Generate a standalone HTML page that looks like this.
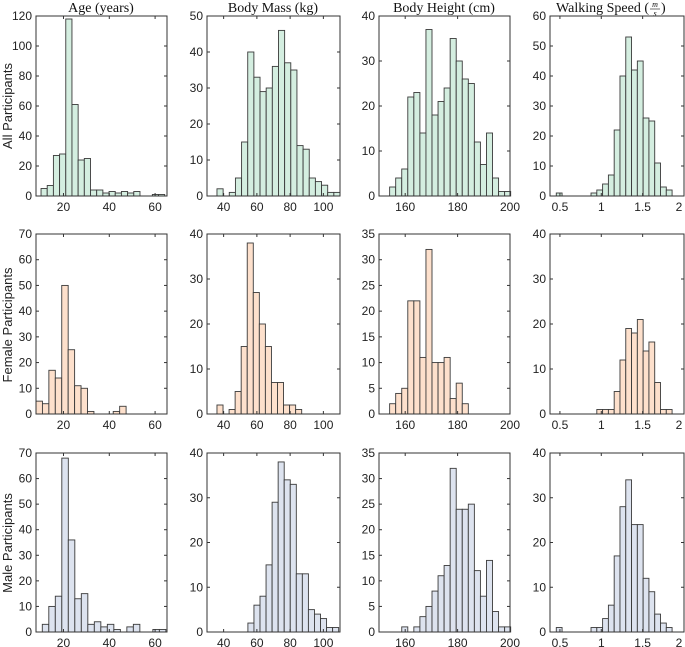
<!DOCTYPE html>
<html><head><meta charset="utf-8">
<style>
html,body{margin:0;padding:0;background:#fff;}
svg{display:block;}
.tk{font-family:"Liberation Sans",sans-serif;font-size:12px;fill:#222;}
.ti{font-family:"Liberation Serif",serif;font-size:14px;fill:#111;}
.rl{font-family:"Liberation Sans",sans-serif;font-size:13px;fill:#222;}
</style></head>
<body>
<svg id="fig" width="685" height="647" viewBox="0 0 685 647" xmlns="http://www.w3.org/2000/svg">
<text class="ti" x="101" y="12" text-anchor="middle">Age (years)</text>
<text class="ti" x="273" y="12" text-anchor="middle">Body Mass (kg)</text>
<text class="ti" x="444" y="12" text-anchor="middle">Body Height (cm)</text>
<g>
<text class="ti" x="649" y="12" text-anchor="end">Walking Speed (</text>
<text class="ti" x="655" y="7" text-anchor="middle" style="font-size:8px;font-style:italic">m</text>
<line x1="650" y1="9" x2="660" y2="9" stroke="#111" stroke-width="0.6"/>
<text class="ti" x="655" y="16" text-anchor="middle" style="font-size:8px;font-style:italic">s</text>
<text class="ti" x="661" y="12">)</text>
</g>
<text class="rl" transform="translate(12,106) rotate(-90)" text-anchor="middle">All Participants</text>
<text class="rl" transform="translate(12,325) rotate(-90)" text-anchor="middle">Female Participants</text>
<text class="rl" transform="translate(12,543) rotate(-90)" text-anchor="middle">Male Participants</text>
</svg>
<script>
// Data
const ageAll = [5,7,27,28,118,61,24,25,4,4,2,3,2,3,2,3,0,0,1,1];
const ageFemale = [5,4,17,14,50,25,11,10,1,0,0,0,1,3];
const ageMale = [3,10,14,68,36,13,15,3,4,2,3,1,0,2,3,0,0,1,1];
const massAll = [2,0,1,5,15,40,33,29,30,36,46,37,35,14,13,5,4,3,1,1];
const massFemale = [2,0,1,5,15,38,27,20,15,7,7,2,2,1];
const massMale = [2,6,8,15,29,38,34,33,13,13,5,4,3,1,1];
const heightAll = [2,4,6,22,23,14,37,18,21,24,35,30,26,25,12,7,14,4,1,1];
const heightFemale = [2,4,5,22,22,11,32,10,10,11,3,6,2];
const heightMale = [1,0,1,3,5,8,11,13,32,24,24,25,12,7,14,4,1,1];
const speedAll = [1,0,0,0,0,0,1,2,4,7,22,40,53,42,45,26,25,11,3,2];
const speedFemale = [1,1,1,5,12,19,18,21,14,16,7,1,1];
const speedMale = [1,0,0,0,0,0,1,1,3,6,17,28,34,24,24,12,9,4,2,1];
// bin starts / widths (data units)
const ageBinStarts = [10.2, 8.0, 10.75];
const ageBinWidths = [2.7, 2.81, 2.84];
const massBinStarts = [36, 36, 54.6];
const massBinWidths = [3.7, 3.64, 3.64];
const heightBinStarts = [154.06, 154.06, 158.68];
const heightBinWidth = 2.31;
const speedBinStarts = [0.456, 0.946, 0.456];
const speedBinWidth = 0.07;
// axes
const yMaxRows = [[120,50,40,60],[70,40,35,40],[70,40,35,40]];
const yStepRows = [[20,10,10,10],[10,10,5,10],[10,10,5,10]];
const xDomains = [[8,65.2],[30,110],[150,200],[0.38,2.0]];
const xTicks = [[20,40,60],[40,60,80,100],[160,180,200],[0.5,1,1.5,2]];
const xTickLabels = [["20","40","60"],["40","60","80","100"],["160","180","200"],["0.5","1","1.5","2"]];
const colNames = ["age","mass","height","speed"];
const rowNames = ["all","female","male"];

const colL=[36,207,379,550], colR=[167,340,510,684];
const rowT=[16,234,453], rowB=[196,414,632];
const fills=["#d4eee0","#fde0cc","#dde3ef"];
const NS="http://www.w3.org/2000/svg";
const svg=document.getElementById('fig');
function mk(t,a,p){const e=document.createElementNS(NS,t);for(const k in a)e.setAttribute(k,a[k]);(p||svg).appendChild(e);return e;}

const series=[[ageAll,massAll,heightAll,speedAll],[ageFemale,massFemale,heightFemale,speedFemale],[ageMale,massMale,heightMale,speedMale]];
function binInfo(r,c){
  if(c===0) return [ageBinStarts[r],ageBinWidths[r]];
  if(c===1) return [massBinStarts[r],massBinWidths[r]];
  if(c===2) return [heightBinStarts[r],heightBinWidth];
  return [speedBinStarts[r],speedBinWidth];
}
for(let r=0;r<3;r++)for(let c=0;c<4;c++){
  const L=colL[c],R=colR[c],T=rowT[r],B=rowB[r];
  const [d0,d1]=xDomains[c];
  const xs=v=>L+(v-d0)/(d1-d0)*(R-L);
  const ys=v=>B-v/yMaxRows[r][c]*(B-T);
  const g=mk('g',{});
  
  
  const [s,w]=binInfo(r,c);
  const vals=series[r][c];
  vals.forEach((v,i)=>{
    if(v<=0) return;
    const x0=xs(s+i*w), x1=xs(s+(i+1)*w);
    const rc=mk('rect',{x:x0,y:ys(v),width:x1-x0,height:B-ys(v),fill:fills[r],stroke:'#3a3a3a','stroke-width':0.9},g);
    
    
  });
  const fr=mk('rect',{x:L,y:T,width:R-L,height:B-T,fill:'none',stroke:'#333','stroke-width':1},g);
  
  
  for(let v=0;v<=yMaxRows[r][c]+1e-9;v+=yStepRows[r][c]){
    const y=ys(v);
    mk('line',{x1:L,y1:y,x2:L+3,y2:y,stroke:'#333','stroke-width':1},g);
    mk('line',{x1:R,y1:y,x2:R-3,y2:y,stroke:'#333','stroke-width':1},g);
    const t=mk('text',{x:L-4,y:y+4,'text-anchor':'end',class:'tk'},g);
    t.textContent=String(v);
    
    
  }
  xTicks[c].forEach((v,i)=>{
    const x=xs(v);
    mk('line',{x1:x,y1:B,x2:x,y2:B-3,stroke:'#333','stroke-width':1},g);
    mk('line',{x1:x,y1:T,x2:x,y2:T+3,stroke:'#333','stroke-width':1},g);
    const t=mk('text',{x:Math.min(x,679),y:B+15,'text-anchor':'middle',class:'tk'},g);
    t.textContent=xTickLabels[c][i];
    
    
  });
}
</script>
</body></html>
